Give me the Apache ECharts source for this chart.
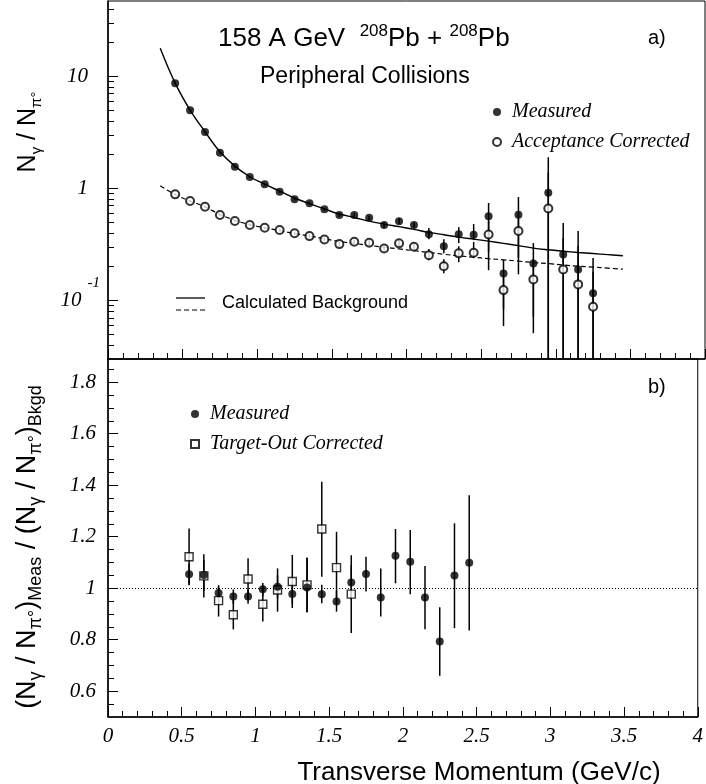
<!DOCTYPE html>
<html>
<head>
<meta charset="utf-8">
<script src="https://cdn.jsdelivr.net/npm/echarts@6/dist/echarts.min.js"></script>
<style>
  html, body { margin: 0; padding: 0; background: #fff; }
  #chart { width: 706px; height: 784px; }
</style>
</head>
<body>
<div id="chart"></div>
<script>
// ---- Upper panel: N_gamma / N_pi0 versus pT, peripheral Pb+Pb ----
const ptBins = [0.45, 0.55, 0.65, 0.75, 0.85, 0.95, 1.05, 1.15, 1.25, 1.35, 1.45, 1.55, 1.65, 1.75, 1.85,
                1.95, 2.05, 2.15, 2.25, 2.35, 2.45, 2.55, 2.65, 2.75, 2.85, 2.95, 3.05, 3.15, 3.25];
const measured = [8.66, 4.97, 3.18, 2.08, 1.56, 1.26, 1.087, 0.932, 0.80, 0.735, 0.65, 0.578, 0.578, 0.546, 0.47,
                  0.51, 0.47, 0.39, 0.305, 0.39, 0.385, 0.5625, 0.174, 0.58, 0.214, 0.914, 0.257, 0.189, 0.116];
const measuredLow = [8.45, 4.87, 3.12, 2.04, 1.53, 1.235, 1.065, 0.912, 0.78, 0.715, 0.63, 0.558, 0.556, 0.522, 0.445,
                     0.48, 0.445, 0.352, 0.264, 0.325, 0.345, 0.27, 0.0835, 0.239, 0.071, 0.001, 0.001, 0.001, 0.001];
const measuredHigh = [8.87, 5.07, 3.24, 2.12, 1.59, 1.285, 1.11, 0.952, 0.82, 0.755, 0.67, 0.598, 0.600, 0.570, 0.495,
                      0.54, 0.497, 0.442, 0.352, 0.451, 0.48, 0.74, 0.229, 0.836, 0.325, 1.9, 0.49, 0.416, 0.239];
const accCorrected = [0.884, 0.771, 0.686, 0.578, 0.511, 0.471, 0.445, 0.425, 0.397, 0.375, 0.35, 0.318, 0.334, 0.327, 0.291,
                      0.323, 0.301, 0.253, 0.202, 0.263, 0.266, 0.388, 0.1236, 0.416, 0.154, 0.662, 0.189, 0.139, 0.0877];
const accLow = [0.865, 0.755, 0.671, 0.565, 0.499, 0.46, 0.434, 0.413, 0.385, 0.362, 0.337, 0.303, 0.318, 0.309, 0.274,
                0.302, 0.282, 0.228, 0.175, 0.219, 0.238, 0.186, 0.059, 0.171, 0.051, 0.001, 0.001, 0.001, 0.001];
const accHigh = [0.903, 0.787, 0.701, 0.591, 0.523, 0.482, 0.456, 0.437, 0.409, 0.388, 0.363, 0.333, 0.350, 0.345, 0.308,
                 0.344, 0.320, 0.287, 0.233, 0.304, 0.332, 0.51, 0.163, 0.60, 0.234, 1.376, 0.36, 0.306, 0.18];

// Calculated background curves
const bkgPt = [0.35, 0.45, 0.55, 0.65, 0.75, 0.85, 0.95, 1.05, 1.15, 1.25, 1.35, 1.45, 1.55, 1.65, 1.75, 1.85,
               1.95, 2.05, 2.15, 2.25, 2.35, 2.45, 2.55, 2.65, 2.75, 2.85, 2.95, 3.05, 3.15, 3.25, 3.35, 3.45];
const bkgMeasured = [17.8, 8.7, 5.0, 3.2, 2.12, 1.58, 1.27, 1.09, 0.945, 0.82, 0.73, 0.655, 0.59, 0.55, 0.51, 0.48,
                     0.455, 0.43, 0.405, 0.385, 0.367, 0.352, 0.338, 0.323, 0.308, 0.293, 0.283, 0.275, 0.268, 0.262, 0.256, 0.25];
const bkgAccCorrected = [1.055, 0.88, 0.77, 0.685, 0.585, 0.52, 0.475, 0.445, 0.42, 0.395, 0.375, 0.355, 0.336, 0.322, 0.31, 0.298,
                         0.288, 0.278, 0.268, 0.258, 0.25, 0.243, 0.236, 0.23, 0.224, 0.218, 0.213, 0.207, 0.202, 0.198, 0.194, 0.19];

// ---- Lower panel: double ratio measured / background ----
const ratioPt = [0.55, 0.65, 0.75, 0.85, 0.95, 1.05, 1.15, 1.25, 1.35, 1.45, 1.55, 1.65, 1.75, 1.85, 1.95, 2.05, 2.15, 2.25, 2.35, 2.45];
const ratioMeasured = [1.054, 1.051, 0.981, 0.968, 0.968, 0.996, 1.006, 0.978, 1.003, 0.977, 0.948, 1.022, 1.055, 0.964,
                       1.126, 1.103, 0.964, 0.793, 1.049, 1.099];
const ratioLow = [1.013, 0.964, 0.955, 0.94, 0.94, 0.97, 0.96, 0.94, 0.907, 0.942, 0.909, 0.955, 0.987, 0.89,
                  1.019, 0.977, 0.841, 0.66, 0.845, 0.836];
const ratioHigh = [1.095, 1.132, 1.005, 0.995, 0.995, 1.02, 1.05, 1.02, 1.118, 1.013, 0.99, 1.09, 1.122, 1.077,
                   1.23, 1.226, 1.086, 0.926, 1.252, 1.361];
const targetOutPt = [0.55, 0.65, 0.75, 0.85, 0.95, 1.05, 1.15, 1.25, 1.35, 1.45, 1.55, 1.65];
const targetOut = [1.122, 1.048, 0.952, 0.897, 1.036, 0.938, 0.993, 1.026, 1.013, 1.23, 1.08, 0.977];
const targetOutLow = [1.012, 0.99, 0.89, 0.84, 0.956, 0.871, 0.909, 0.923, 0.907, 1.045, 0.94, 0.826];
const targetOutHigh = [1.232, 1.11, 1.012, 0.955, 1.116, 1.005, 1.077, 1.129, 1.118, 1.413, 1.219, 1.128];
const unityLevel = 1;

// ---- Axis ticks ----
const logMajorTicks = [0.1, 1, 10];
const logMinorTicks = [0.04, 0.05, 0.06, 0.07, 0.08, 0.09, 0.2, 0.3, 0.4, 0.5, 0.6, 0.7, 0.8, 0.9,
                       2, 3, 4, 5, 6, 7, 8, 9, 20, 30, 40];
const ratioMajorTicks = [0.6, 0.8, 1, 1.2, 1.4, 1.6, 1.8];
const ratioMinorTicks = [0.55, 0.65, 0.7, 0.75, 0.85, 0.9, 0.95, 1.05, 1.1, 1.15, 1.25, 1.3, 1.35,
                         1.45, 1.5, 1.55, 1.65, 1.7, 1.75, 1.85];

const SANS = 'Liberation Sans';
const SERIF = 'Liberation Serif';
const INK = '#000';

const zip = (...cols) => cols[0].map((_, i) => cols.map(c => c[i]));

function errorBars(xs, lo, hi, xi, yi) {
  return {
    type: 'custom',
    xAxisIndex: xi, yAxisIndex: yi,
    clip: true,
    silent: true,
    z: 1,
    data: zip(xs, lo, hi),
    encode: { x: 0, y: [1, 2] },
    renderItem: function (params, api) {
      const a = api.coord([api.value(0), api.value(1)]);
      const b = api.coord([api.value(0), api.value(2)]);
      return {
        type: 'line',
        shape: { x1: a[0], y1: a[1], x2: b[0], y2: b[1] },
        style: { stroke: INK, lineWidth: 1.5 }
      };
    }
  };
}

const axisLineStyle = { show: true, onZero: false, lineStyle: { color: INK, width: 1.5 } };

function xAxisFor(gridIndex, withLabels) {
  return {
    type: 'value', gridIndex, min: 0, max: 4, interval: 0.5,
    axisLine: axisLineStyle,
    axisTick: { show: true, inside: true, length: 10, lineStyle: { color: INK, width: 1 } },
    minorTick: { show: true, splitNumber: 5, length: 6, lineStyle: { color: INK, width: 1 } },
    splitLine: { show: false },
    axisLabel: withLabels ? {
      show: true, margin: 9, color: INK, fontFamily: SERIF, fontStyle: 'italic', fontSize: 21,
      formatter: v => String(v)
    } : { show: false }
  };
}

const labelItalic = { fontFamily: SERIF, fontStyle: 'italic', color: INK };
const legendText = {
  color: INK, fontFamily: SERIF, fontStyle: 'italic', fontSize: 20,
  rich: { t: { fontFamily: SERIF, fontStyle: 'italic', fontSize: 20, padding: [0, 0, 0, 6] } }
};

const option = {
  animation: false,
  backgroundColor: '#fff',
  grid: [
    { left: 108, right: 1, top: 1, height: 358, show: true, borderColor: INK, borderWidth: 1 },
    { left: 108, right: 1, top: 359, height: 358, show: true, borderColor: INK, borderWidth: 1 }
  ],
  xAxis: [xAxisFor(0, false), xAxisFor(1, true)],
  yAxis: [
    {
      type: 'log', logBase: 10, gridIndex: 0, min: 0.03, max: 47, position: 'left',
      axisLine: axisLineStyle,
      axisTick: { show: true, inside: true, length: 10, customValues: logMajorTicks, lineStyle: { color: INK, width: 1 } },
      splitLine: { show: false },
      axisLabel: {
        show: true, margin: 8, customValues: logMajorTicks,
        formatter: v => (v < 0.5 ? '{m|10}{e|-1}' : '{q|' + v + '}'),
        rich: {
          m: Object.assign({ fontSize: 21, lineHeight: 50 }, labelItalic),
          q: Object.assign({ fontSize: 21, lineHeight: 24, padding: [0, 12, 0, 0] }, labelItalic),
          e: Object.assign({ fontSize: 15, lineHeight: 15, verticalAlign: 'top', padding: [0, 0, 0, 6] }, labelItalic)
        }
      }
    },
    {
      type: 'value', gridIndex: 1, min: 0.5, max: 1.89, position: 'left',
      axisLine: axisLineStyle,
      axisTick: { show: true, inside: true, length: 10, customValues: ratioMajorTicks, lineStyle: { color: INK, width: 1 } },
      splitLine: { show: false },
      axisLabel: Object.assign({ show: true, margin: 12, fontSize: 21, customValues: ratioMajorTicks,
                                 formatter: v => String(v) }, labelItalic)
    },
    {
      type: 'log', logBase: 10, gridIndex: 0, min: 0.03, max: 47, position: 'left',
      axisLine: { show: false },
      axisTick: { show: true, inside: true, length: 6, customValues: logMinorTicks, lineStyle: { color: INK, width: 1 } },
      axisLabel: { show: false }, splitLine: { show: false }
    },
    {
      type: 'value', gridIndex: 1, min: 0.5, max: 1.89, position: 'left',
      axisLine: { show: false },
      axisTick: { show: true, inside: true, length: 6, customValues: ratioMinorTicks, lineStyle: { color: INK, width: 1 } },
      axisLabel: { show: false }, splitLine: { show: false }
    }
  ],
  legend: [
    {
      orient: 'vertical', left: 492, top: 102, padding: 0, itemWidth: 8, itemHeight: 8, itemGap: 10,
      selectedMode: false,
      data: [{ name: 'Measured', icon: 'circle' }, { name: 'Acceptance Corrected', icon: 'emptyCircle' }],
      formatter: '{t|{name}}',
      textStyle: legendText
    },
    {
      orient: 'vertical', left: 190, top: 404, padding: 0, itemWidth: 8, itemHeight: 8, itemGap: 10,
      selectedMode: false,
      data: [{ name: 'Measured', icon: 'circle' }, { name: 'Target-Out Corrected', icon: 'rect' }],
      formatter: '{t|{name}}',
      textStyle: legendText
    }
  ],
  series: [
    errorBars(ptBins, measuredLow, measuredHigh, 0, 0),
    errorBars(ptBins, accLow, accHigh, 0, 0),
    {
      name: 'bkg-measured', type: 'line', xAxisIndex: 0, yAxisIndex: 0, smooth: 0.4,
      showSymbol: false, silent: true, z: 2,
      lineStyle: { color: INK, width: 1.4 },
      data: zip(bkgPt, bkgMeasured)
    },
    {
      name: 'bkg-acc', type: 'line', xAxisIndex: 0, yAxisIndex: 0, smooth: 0.4,
      showSymbol: false, silent: true, z: 2,
      lineStyle: { color: INK, width: 1.2, type: [5, 3] },
      data: zip(bkgPt, bkgAccCorrected)
    },
    {
      name: 'Measured', type: 'scatter', xAxisIndex: 0, yAxisIndex: 0, symbol: 'circle', symbolSize: 8, z: 3,
      itemStyle: { color: INK },
      data: zip(ptBins, measured)
    },
    {
      name: 'Acceptance Corrected', type: 'scatter', xAxisIndex: 0, yAxisIndex: 0, symbol: 'emptyCircle', symbolSize: 8, z: 3,
      itemStyle: { color: INK, borderWidth: 1.3 },
      data: zip(ptBins, accCorrected)
    },
    errorBars(ratioPt, ratioLow, ratioHigh, 1, 1),
    errorBars(targetOutPt, targetOutLow, targetOutHigh, 1, 1),
    {
      name: 'Target-Out Corrected', type: 'scatter', xAxisIndex: 1, yAxisIndex: 1, symbol: 'rect', symbolSize: 8, z: 3,
      itemStyle: { color: '#fff', borderColor: INK, borderWidth: 1.4 },
      data: zip(targetOutPt, targetOut)
    },
    {
      name: 'Measured', type: 'scatter', xAxisIndex: 1, yAxisIndex: 1, symbol: 'circle', symbolSize: 8, z: 4,
      itemStyle: { color: INK },
      data: zip(ratioPt, ratioMeasured),
      markLine: {
        silent: true, symbol: 'none', label: { show: false },
        lineStyle: { color: INK, width: 1, type: [1, 2] },
        data: [{ yAxis: unityLevel }]
      }
    }
  ],
  graphic: [
    {
      type: 'text', x: 218, y: 39,
      style: {
        text: '{t|158 A GeV  }{s|208}{t|Pb + }{s|208}{t|Pb}',
        verticalAlign: 'middle', align: 'left',
        rich: {
          t: { fontFamily: SANS, fontSize: 26, lineHeight: 32, fill: INK },
          s: { fontFamily: SANS, fontSize: 17, lineHeight: 17, verticalAlign: 'top', fill: INK }
        }
      }
    },
    { type: 'text', x: 260, y: 77,
      style: { text: 'Peripheral Collisions', font: '23px "Liberation Sans"', fill: INK, verticalAlign: 'middle' } },
    { type: 'text', x: 648, y: 38,
      style: { text: 'a)', font: '20px "Liberation Sans"', fill: INK, verticalAlign: 'middle' } },
    { type: 'text', x: 648, y: 387,
      style: { text: 'b)', font: '20px "Liberation Sans"', fill: INK, verticalAlign: 'middle' } },
    { type: 'line', shape: { x1: 176, y1: 298, x2: 205, y2: 298 }, style: { stroke: INK, lineWidth: 1.3 } },
    { type: 'line', shape: { x1: 176, y1: 310, x2: 205, y2: 310 }, style: { stroke: INK, lineWidth: 1.2, lineDash: [5, 3] } },
    { type: 'text', x: 222, y: 303,
      style: { text: 'Calculated Background', font: '18px "Liberation Sans"', fill: INK, verticalAlign: 'middle' } },
    { type: 'text', x: 479, y: 773,
      style: { text: 'Transverse Momentum (GeV/c)', font: '26px "Liberation Sans"', fill: INK,
               align: 'center', verticalAlign: 'middle' } },
    {
      type: 'text', x: 28, y: 132, rotation: Math.PI / 2,
      style: {
        text: '{n|N}{s|γ}{n| / N}{s|π°}',
        align: 'center', verticalAlign: 'middle',
        rich: {
          n: { fontFamily: SANS, fontSize: 25, lineHeight: 32, fill: INK },
          s: { fontFamily: SANS, fontSize: 15, lineHeight: 15, verticalAlign: 'bottom', fill: INK }
        }
      }
    },
    {
      type: 'text', x: 28, y: 547, rotation: Math.PI / 2,
      style: {
        text: '{n|(N}{s|γ}{n| / N}{s|π°}{n|)}{s|Meas}{n| / (N}{s|γ}{n| / N}{s|π°}{n|)}{s|Bkgd}',
        align: 'center', verticalAlign: 'middle',
        rich: {
          n: { fontFamily: SANS, fontSize: 27, lineHeight: 34, fill: INK },
          s: { fontFamily: SANS, fontSize: 18, lineHeight: 18, verticalAlign: 'bottom', fill: INK }
        }
      }
    }
  ]
};

const chart = echarts.init(document.getElementById('chart'), null, { renderer: 'canvas' });
chart.setOption(option);
</script>
</body>
</html>
